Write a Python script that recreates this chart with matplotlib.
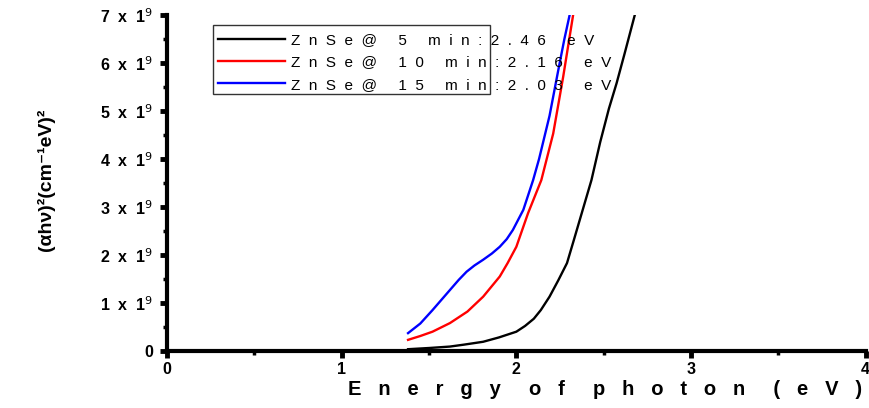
import matplotlib.pyplot as plt
from matplotlib.patches import Rectangle
from matplotlib.ticker import MultipleLocator

plt.rcParams["font.family"] = ["Liberation Sans", "DejaVu Sans"]

# photon energy (eV) and (alpha h nu)^2 values
x_5min = [1.38, 1.50, 1.62, 1.70, 1.81, 1.90, 2.00, 2.05, 2.10, 2.14, 2.19, 2.24, 2.29,
          2.33, 2.38, 2.43, 2.48, 2.53, 2.574, 2.62, 2.678, 2.72]
y_5min = [0.035e9, 0.06e9, 0.09e9, 0.13e9, 0.19e9, 0.28e9, 0.40e9, 0.52e9, 0.67e9, 0.85e9, 1.13e9,
          1.47e9, 1.83e9, 2.32e9, 2.94e9, 3.56e9, 4.35e9, 5.05e9, 5.58e9, 6.2e9, 7.0e9, 7.5e9]

x_10min = [1.38, 1.45, 1.52, 1.62, 1.72, 1.81, 1.905, 1.95, 2.00, 2.067, 2.143,
           2.211, 2.268, 2.325, 2.345]
y_10min = [0.23e9, 0.31e9, 0.40e9, 0.58e9, 0.82e9, 1.13e9, 1.55e9, 1.83e9, 2.17e9, 2.87e9,
           3.56e9, 4.53e9, 5.71e9, 7.0e9, 7.4e9]

x_15min = [1.38, 1.45, 1.52, 1.57, 1.62, 1.67, 1.715, 1.76, 1.81, 1.86, 1.905, 1.945, 1.98,
           2.04, 2.096, 2.13, 2.19, 2.24, 2.275, 2.305, 2.325]
y_15min = [0.37e9, 0.57e9, 0.85e9, 1.06e9, 1.27e9, 1.48e9, 1.65e9, 1.78e9, 1.90e9, 2.03e9,
           2.17e9, 2.33e9, 2.52e9, 2.94e9, 3.56e9, 4.0e9, 4.9e9, 5.85e9, 6.5e9, 7.0e9, 7.4e9]

labels = ["ZnSe@ 5 min:2.46 eV", "ZnSe@ 10 min:2.16 eV", "ZnSe@ 15 min:2.03 eV"]
colors = ["black", "red", "blue"]

y_ticks = [0, 1e9, 2e9, 3e9, 4e9, 5e9, 6e9, 7e9]
y_tick_labels = ["0", "1  x  1$^9$", "2  x  1$^9$", "3  x  1$^9$", "4  x  1$^9$",
                 "5  x  1$^9$", "6  x  1$^9$", "7  x  1$^9$"]


def spread(s, gap="  ", word_gap="     "):
    # the original text is drawn with very wide letter spacing
    return word_gap.join(gap.join(w) for w in s.split())


fig = plt.figure(figsize=(8.7, 4.08), dpi=100)
ax = fig.add_axes([0.192, 0.140, 0.803, 0.823])

series = [(x_5min, y_5min), (x_10min, y_10min), (x_15min, y_15min)]
for (xs, ys), lab, c in zip(series, labels, colors):
    ax.plot(xs, ys, color=c, lw=1.7, label=spread(lab))

ax.set_xlim(0, 4)
ax.set_ylim(0, 7e9)
ax.spines["top"].set_visible(False)
ax.spines["right"].set_visible(False)
ax.spines["left"].set_linewidth(3)
ax.spines["bottom"].set_linewidth(3)

ax.xaxis.set_major_locator(MultipleLocator(1))
ax.xaxis.set_minor_locator(MultipleLocator(0.5))
ax.set_yticks(y_ticks)
ax.set_yticklabels(y_tick_labels)
ax.yaxis.set_minor_locator(MultipleLocator(0.5e9))
ax.tick_params(which="major", length=5, width=3.5, direction="out", labelsize=11.5, pad=3)
ax.tick_params(axis="y", which="major", pad=5)
ax.tick_params(which="minor", length=3, width=2.5, direction="out")
for t in ax.get_xticklabels() + ax.get_yticklabels():
    t.set_fontweight("bold")

ax.set_xlabel(spread("Energy of photon (eV)", gap="   ", word_gap="     "),
              fontsize=14.5, fontweight="bold", ha="center", va="center")
ax.xaxis.set_label_coords(0.627, -0.116)
ax.set_ylabel("(αhν)²(cm⁻¹eV)²", fontsize=14, fontweight="bold")
ax.yaxis.set_label_coords(-0.16, 0.51)

leg = ax.legend(loc="upper left", bbox_to_anchor=(0.064, 0.965), frameon=False,
                fontsize=11, handlelength=4.4, handletextpad=0.4,
                labelspacing=0.55, borderaxespad=0.0)
ax.add_patch(Rectangle((0.066, 0.764), 0.396, 0.207, transform=ax.transAxes,
                       fill=False, edgecolor="#333333", lw=1, clip_on=False))

fig.savefig("out.png", dpi=100)
